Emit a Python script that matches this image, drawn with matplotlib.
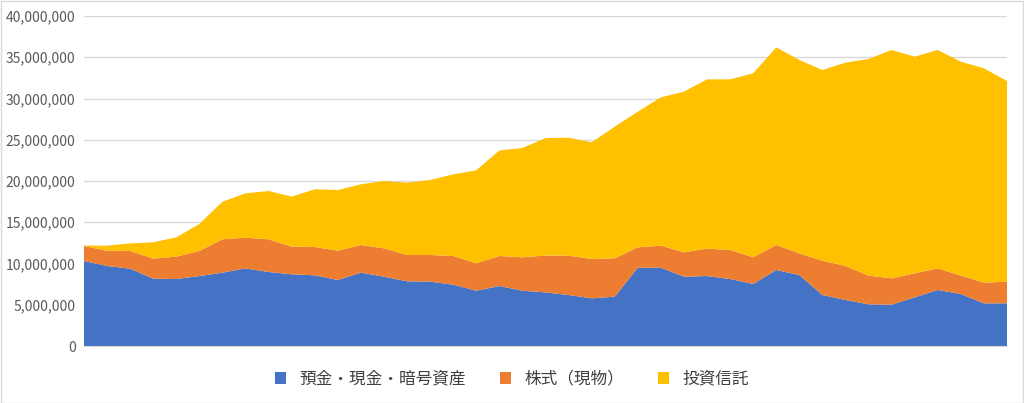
import matplotlib
matplotlib.use("Agg")
import matplotlib.pyplot as plt
from matplotlib.ticker import FuncFormatter, MultipleLocator
import numpy as np

labels = ["預金・現金・暗号資産", "株式（現物）", "投資信託"]
cash = [10.3,9.7,9.37,8.16,8.12,8.48,8.89,9.41,8.97,8.69,8.57,8.0,8.89,8.4,7.84,7.8,7.43,6.7,7.27,6.7,
        6.5,6.18,5.78,5.98,9.49,9.49,8.4,8.48,8.12,7.52,9.21,8.6,6.18,5.58,5.05,5.01,5.9,6.79,6.3,5.17,5.17]
stocks = [1.82,1.85,2.15,2.43,2.71,3.04,4.04,3.72,3.96,3.35,3.43,3.55,3.35,3.44,3.19,3.23,3.48,3.32,3.64,4.05,
          4.47,4.77,4.77,4.65,2.47,2.67,2.95,3.32,3.52,3.23,3.03,2.63,4.16,4.12,3.48,3.19,2.91,2.62,2.23,2.51,2.63]
funds = [0.05,0.61,0.92,1.98,2.34,3.27,4.56,5.37,5.86,6.06,7.0,7.35,7.36,8.16,8.77,9.09,9.89,11.28,12.79,13.25,
         14.23,14.3,14.14,15.95,16.44,17.98,19.48,20.52,20.68,22.3,23.96,23.44,23.11,24.64,26.26,27.68,26.26,26.47,25.93,25.98,24.32]
colors = ["#4472C4", "#ED7D31", "#FFC000"]

plt.rcParams["font.family"] = ["Noto Sans CJK JP", "DejaVu Sans"]
fig = plt.figure(figsize=(10.24, 4.03), dpi=100)
ax = fig.add_axes([84/1024, 57/403, 923/1024, 330/403])
x = np.arange(len(cash))
ys = [np.array(s) * 1e6 for s in (cash, stocks, funds)]
ax.stackplot(x, *ys, colors=colors, labels=labels, linewidth=0)
ax.set_xlim(0, len(cash) - 1)
ax.set_ylim(0, 40e6)
ax.yaxis.set_major_locator(MultipleLocator(5e6))
ax.yaxis.set_major_formatter(FuncFormatter(lambda v, p: f"{int(v):,}"))
ax.grid(axis="y", color="#D9D9D9", linewidth=1)
ax.set_axisbelow(True)
ax.set_xticks([])
for s in ["top", "right", "left"]:
    ax.spines[s].set_visible(False)
ax.spines["bottom"].set_color("#D9D9D9")
ax.tick_params(axis="y", length=0, labelsize=10, colors="#595959", pad=6)
fig.legend(loc="center", bbox_to_anchor=(0.5, 24/403), ncol=3, frameon=False,
           fontsize=12, handlelength=0.7, handleheight=0.7, columnspacing=2.0,
           labelcolor="#404040")
fig.patches.append(plt.Rectangle((0.001, 0.001), 0.998, 0.997, transform=fig.transFigure,
                                 fill=False, edgecolor="#D9D9D9", linewidth=1))
fig.savefig("out.png", dpi=100)
